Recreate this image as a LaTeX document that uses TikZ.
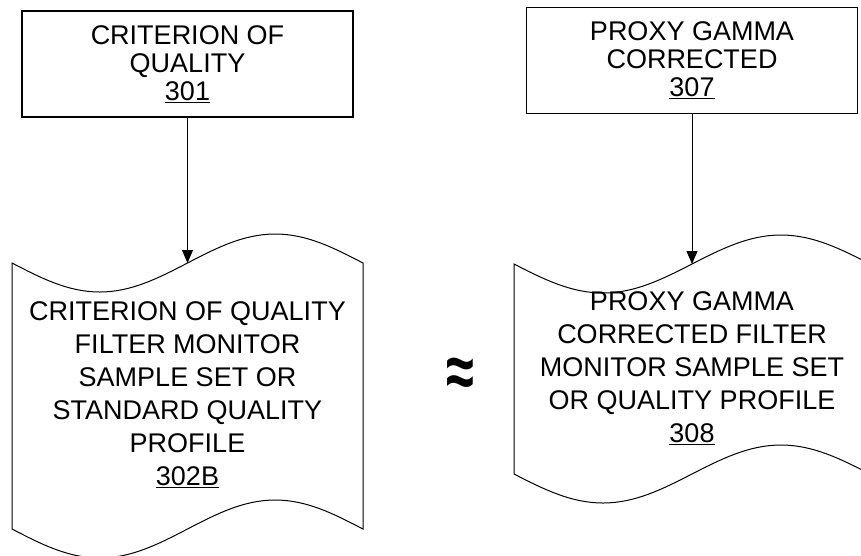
\documentclass[tikz,border=0pt]{standalone}
\usepackage{fontspec}
\setmainfont{Liberation Sans}
\usetikzlibrary{arrows.meta}

\begin{document}
\begin{tikzpicture}[x=1pt,y=-1pt,
				box/.style={draw,line width=1.4pt,minimum width=331pt,minimum height=106pt,
					align=center,inner sep=0pt,font=\fontsize{27}{28}\selectfont},
				doctext/.style={align=center,inner sep=0pt,font=\fontsize{27}{33}\selectfont},
				page/.style={draw,line width=1pt},
				arrow/.style={-{Triangle[length=13pt,width=11pt]},line width=0.8pt}]
\useasboundingbox (0,0) rectangle (861,555);
\clip (0,0) rectangle (861,555);
% boxes
\node[box] (crit) at (187.5,64) {CRITERION OF\\QUALITY\\\underline{301}};
\node[box] (proxy) at (692,60.5) {PROXY GAMMA\\CORRECTED\\\underline{307}};
% documents
\draw[page] (12,263) sin (99.75,292) cos (187.5,263) sin (275.25,234) cos (363,263)
	-- (363,529) sin (275.25,500) cos (187.5,529) sin (99.75,558) cos (12,529) -- cycle;
\draw[page] (514,264) sin (603,293) cos (692,264) sin (781,235) cos (870,264)
	-- (870,474) sin (781,445) cos (692,474) sin (603,503) cos (514,474) -- cycle;
\coordinate (crittop) at (187.5,263);
\coordinate (proxytop) at (692,264);
\node[doctext] (critdoc) at (187.5,395) {CRITERION OF QUALITY\\FILTER MONITOR\\SAMPLE SET OR\\STANDARD QUALITY\\PROFILE\\\underline{302B}};
\node[doctext] (proxydoc) at (692,368) {PROXY GAMMA\\CORRECTED FILTER\\MONITOR SAMPLE SET\\OR QUALITY PROFILE\\\underline{308}};
\node[font=\fontsize{44}{44}\bfseries\selectfont,inner sep=0pt] (approx) at (460.5,377.5) {\scalebox{1.15}[1.7]{≈}};
% arrows
\draw[arrow] (crit) -- (crittop);
\draw[arrow] (proxy) -- (proxytop);
\end{tikzpicture}
\end{document}
